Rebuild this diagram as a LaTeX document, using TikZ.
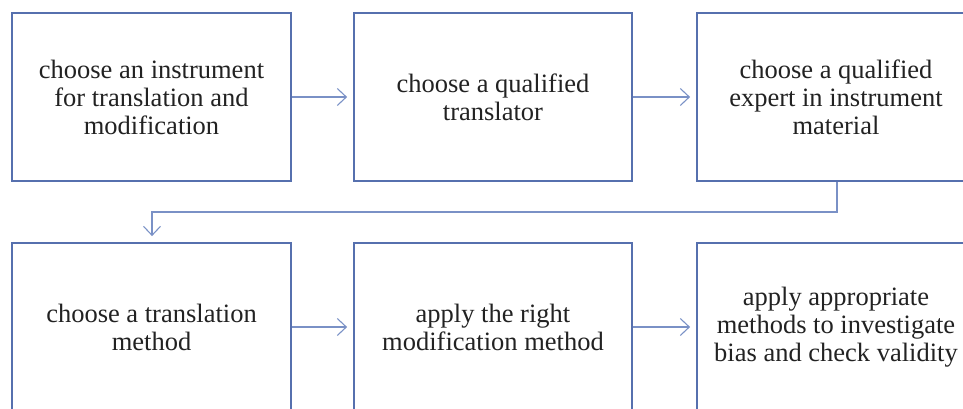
\documentclass[tikz,border=0pt]{standalone}
\usepackage{fontspec}
\setmainfont{Liberation Serif}
\usetikzlibrary{arrows.meta}
\definecolor{boxblue}{HTML}{5670AE}
\definecolor{arrblue}{HTML}{7A91C6}
\definecolor{txt}{HTML}{222222}
\tikzset{
  stepbox/.style={draw=boxblue, line width=1.8pt, fill=white, minimum width=279pt, minimum height=168pt, inner sep=0pt, align=center, text=txt, font=\fontsize{26.5}{28}\selectfont},
  flow/.style={draw=arrblue, line width=1.1pt, -{Straight Barb[length=9pt,width=17pt,line width=1.1pt]}},
}
\begin{document}
\begin{tikzpicture}[x=1pt,y=-1pt]
\useasboundingbox (0,0) rectangle (963,409);
\node[stepbox] (b1) at (151.5,97) {choose an instrument\\for translation and\\modification};
\node[stepbox, minimum width=278pt] (b2) at (493,97) {choose a qualified\\translator};
\node[stepbox, minimum width=278pt] (b3) at (836,97) {choose a qualified\\expert in instrument\\material};
\node[stepbox] (b4) at (151.5,327) {choose a translation\\method};
\node[stepbox, minimum width=278pt] (b5) at (493,327) {apply the right\\modification method};
\node[stepbox, minimum width=278pt] (b6) at (836,327) {apply appropriate\\methods to investigate\\bias and check validity};
\draw[flow, shorten >=6pt] (b1.east) -- (b2.west);
\draw[flow, shorten >=6pt] (b2.east) -- (b3.west);
\draw[flow, shorten >=6pt] (b4.east) -- (b5.west);
\draw[flow, shorten >=6pt] (b5.east) -- (b6.west);
\coordinate (k1) at (837,212);
\coordinate (k2) at (152,212);
\draw[flow, shorten >=6pt] (b3.south -| k1) -- (k1) -- (k2) -- (k2 |- b4.north);
\end{tikzpicture}
\end{document}
